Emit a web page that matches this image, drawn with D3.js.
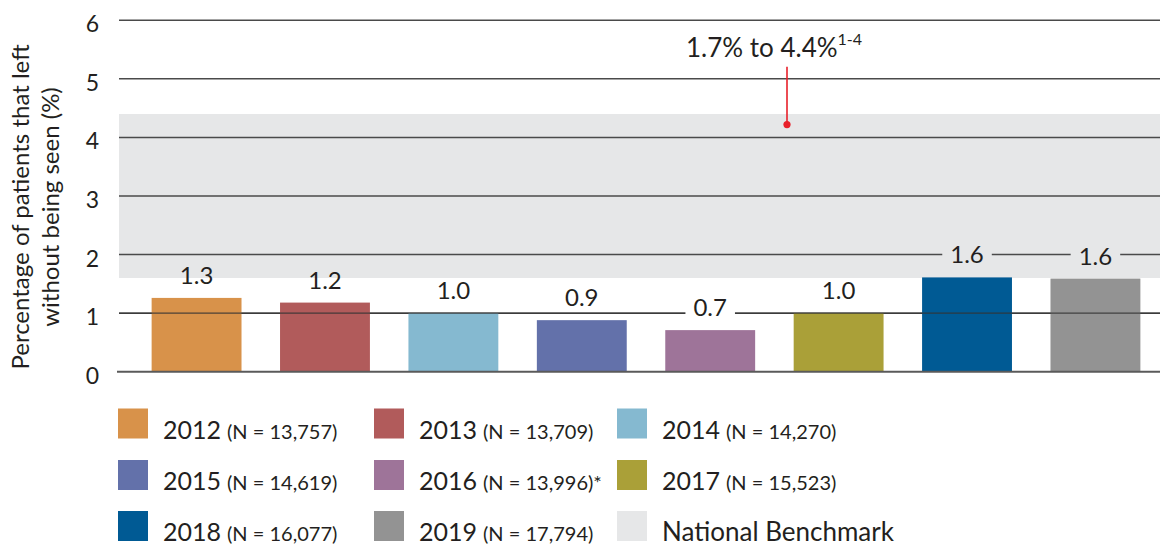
<!DOCTYPE html>
<html><head><meta charset="utf-8">
<script src="https://cdn.jsdelivr.net/npm/d3@7"></script>
<style>
html,body{margin:0;padding:0;background:#fff;}
svg{display:block;font-family:Lato,"Open Sans",sans-serif;}
</style></head>
<body><svg id="c" width="1160" height="546"></svg>
<script>
const years = ["2012","2013","2014","2015","2016","2017","2018","2019"];
const values = [1.26,1.18,1.0,0.88,0.71,1.0,1.61,1.59];
const nCounts = ["13,757","13,709","14,270","14,619","13,996","15,523","16,077","17,794"];
const nSuffix = ["","","","","*","","",""];
const colors = ["#d8924a","#b15b5b","#85b9d0","#6371aa","#9e7499","#aaa038","#005a94","#939393"];
const yTicks = [0,1,2,3,4,5,6];
const benchmark = [1.6, 4.4];
const benchmarkLabel = "1.7% to 4.4%";
const benchmarkRef = "1-4";
const benchmarkMarker = 4.22;
const benchmarkName = "National Benchmark";
const benchColor = "#e6e7e8";
const axisTitle = ["Percentage of patients that left","without being seen (%)"];

const svg = d3.select("#c");
const textColor = "#231f20";
const gridColor = "#4a4a4a";
const gridLeft = 119, gridRight = 1160;

const y = d3.scaleLinear().domain([0,6]).range([371.7,20.3]);
const x = d3.scaleBand().domain(years).range([114,1178]).paddingInner(0.3).paddingOuter(0.293);

// benchmark band
svg.append("rect").attr("x",gridLeft).attr("width",gridRight-gridLeft)
  .attr("y",y(benchmark[1])).attr("height",y(benchmark[0])-y(benchmark[1]))
  .attr("fill",benchColor);

// gridlines
svg.append("g").selectAll("line").data(yTicks.filter(d=>d>0)).join("line")
  .attr("x1",gridLeft).attr("x2",gridRight)
  .attr("y1",d=>y(d)).attr("y2",d=>y(d))
  .attr("stroke",gridColor).attr("stroke-width",1.5);

// y tick labels
svg.append("g").selectAll("text").data(yTicks).join("text")
  .attr("x",99).attr("y",d=>y(d)+12).attr("text-anchor","end")
  .attr("font-size",23).attr("fill",textColor).text(d=>d);

// axis title
const at = svg.append("text").attr("transform","translate(0,207) rotate(-90)")
  .attr("text-anchor","middle").attr("font-size",24).attr("fill",textColor);
axisTitle.forEach((t,i)=>at.append("tspan").attr("x",0).attr("y",i===0?29:59).text(t));

// bars
svg.append("g").selectAll("rect").data(years).join("rect")
  .attr("x",d=>x(d)).attr("width",x.bandwidth())
  .attr("y",(d,i)=>y(values[i])).attr("height",(d,i)=>y(0)-y(values[i]))
  .attr("fill",(d,i)=>colors[i]);
// gridline at 1 runs over the bars
svg.append("line").attr("x1",gridLeft).attr("x2",gridRight).attr("y1",y(1)).attr("y2",y(1))
  .attr("stroke","#333").attr("stroke-width",1.2).attr("stroke-opacity",0.85);
// baseline
svg.append("line").attr("x1",117).attr("x2",gridRight).attr("y1",y(0)).attr("y2",y(0))
  .attr("stroke","#5a5a5a").attr("stroke-width",2);

// value labels; gridlines are interrupted where they cross a label
const fmt = d3.format(".1f");
const lg = svg.append("g");
years.forEach((yr,i)=>{
  const cx = x(yr)+x.bandwidth()/2;
  const base = y(values[i]) - 14;
  const t = lg.append("text").attr("x",cx).attr("y",base).attr("text-anchor","middle")
    .attr("font-size",24).attr("fill",textColor).text(fmt(values[i]));
  const bb = t.node().getBBox();
  yTicks.forEach(v=>{
    const gy = y(v);
    if (gy > bb.y + 2 && gy < bb.y + bb.height - 2) {
      const inBand = v >= benchmark[0] && v <= benchmark[1];
      lg.insert("rect","text").attr("x",bb.x-8).attr("width",bb.width+16)
        .attr("y",gy-3).attr("height",6).attr("fill",inBand?benchColor:"#fff");
    }
  });
});

// annotation
const annX = 787;
svg.append("line").attr("x1",annX).attr("x2",annX).attr("y1",66.7).attr("y2",y(benchmarkMarker))
  .attr("stroke","#e8202a").attr("stroke-width",1.6);
svg.append("circle").attr("cx",annX).attr("cy",y(benchmarkMarker)).attr("r",3.6).attr("fill","#e8202a");
const ann = svg.append("text").attr("x",686).attr("y",57).attr("font-size",26).attr("fill",textColor);
ann.append("tspan").text(benchmarkLabel);
ann.append("tspan").attr("font-size",16).attr("dy",-12).text(benchmarkRef);

// legend
const legItems = years.map((yr,i)=>({year:yr,n:nCounts[i],suf:nSuffix[i],color:colors[i]}));
legItems.push({year:null,name:benchmarkName,color:benchColor});
const colX = [118,374,617];
const rowY = [408.5,460,511];
const leg = svg.append("g");
legItems.forEach((it,k)=>{
  const c = k%3, r = Math.floor(k/3);
  const g = leg.append("g").attr("transform",`translate(${colX[c]},${rowY[r]})`);
  g.append("rect").attr("width",30).attr("height",30).attr("fill",it.color);
  const t = g.append("text").attr("x",45).attr("y",30).attr("fill",textColor);
  if(it.year){
    t.append("tspan").attr("font-size",25).text(it.year);
    t.append("tspan").attr("font-size",20).attr("dx",6).text("(N = "+it.n+")"+it.suf);
  } else {
    t.append("tspan").attr("font-size",26).text(it.name);
  }
});
</script></body></html>
